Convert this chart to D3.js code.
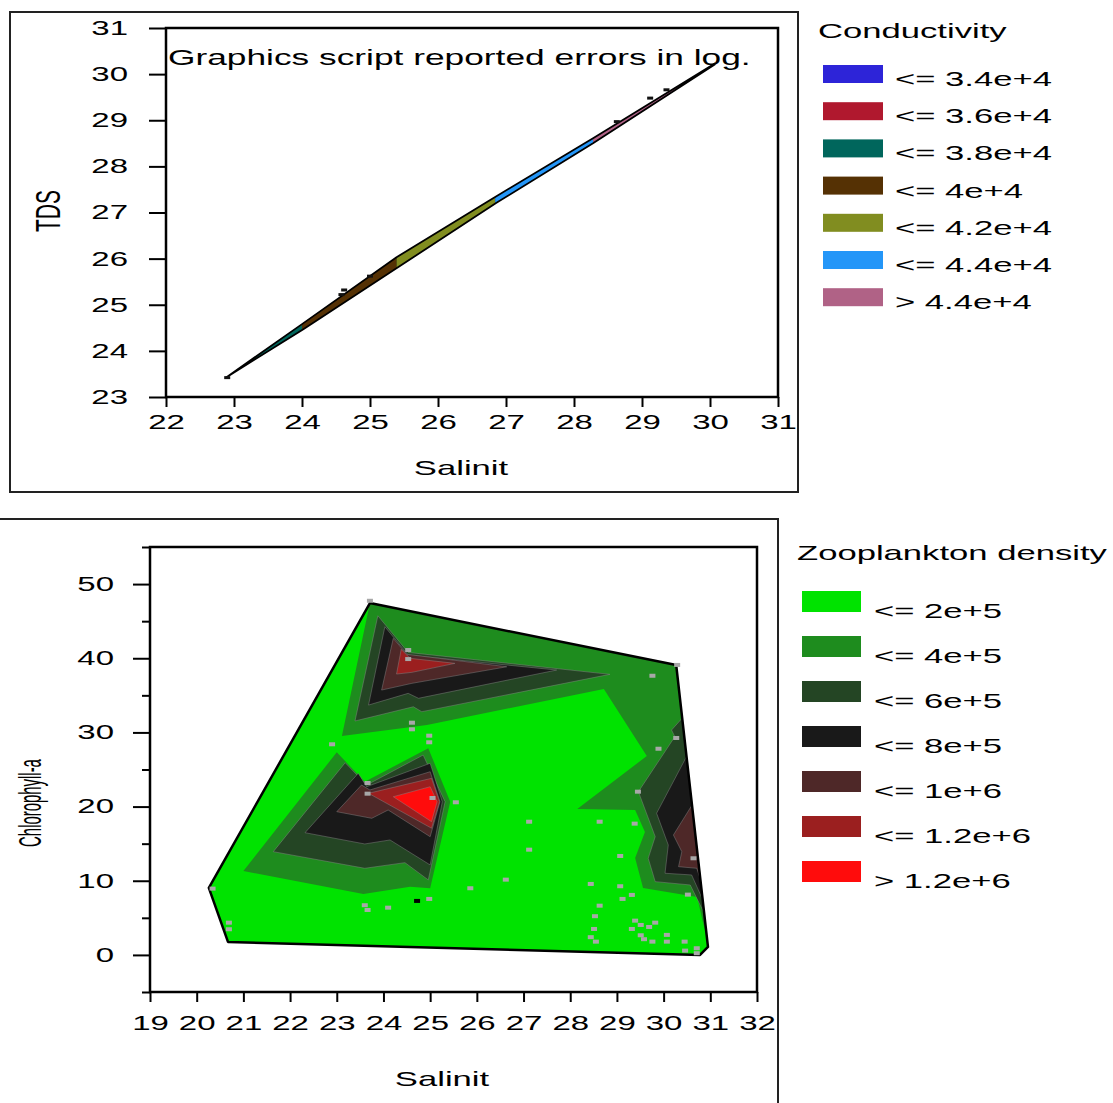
<!DOCTYPE html>
<html>
<head>
<meta charset="utf-8">
<script src="https://cdn.jsdelivr.net/npm/d3@7"></script>
<style>
  body { margin: 0; background: #fff; }
  svg text { font-family: "Liberation Sans", Arial, sans-serif; fill: #000; }
</style>
</head>
<body>
<svg id="chart" width="1113" height="1103"></svg>
<script>
// ---------- data ----------
// top chart : TDS vs Salinit, coloured by Conductivity
const condLabels = ["<= 3.4e+4", "<= 3.6e+4", "<= 3.8e+4", "<= 4e+4", "<= 4.2e+4", "<= 4.4e+4", "> 4.4e+4"];
const condColors = ["#2d24d8", "#b0182e", "#00665c", "#553104", "#818d20", "#2496f8", "#b06286"];
const tdsTicks = [23, 24, 25, 26, 27, 28, 29, 30, 31];
const salTopTicks = [22, 23, 24, 25, 26, 27, 28, 29, 30, 31];

// hull of the (nearly collinear) samples: upper side then lower side  [salinit, tds]
const sliverUpper = [[22.89, 23.43], [24.00, 24.58], [25.39, 26.03], [26.81, 27.31], [28.28, 28.61], [30.07, 30.23]];
const sliverLower = [[30.07, 30.21], [28.28, 28.50], [26.86, 27.21], [25.44, 25.84], [24.02, 24.47]];
// salinit where the conductivity class changes along the sliver, and the class of each piece
const sliverBreaks = [22.89, 24.00, 25.39, 26.84, 28.28, 29.56];
const sliverClass = [2, 3, 4, 5, 6];
const topPoints = [[22.9, 23.42], [24.58, 25.22], [24.62, 25.32], [25.0, 25.62], [28.63, 28.97], [29.12, 29.48], [29.36, 29.66]];

// bottom chart : Chlorophyll-a vs Salinit, coloured by Zooplankton density
const zooLabels = ["<= 2e+5", "<= 4e+5", "<= 6e+5", "<= 8e+5", "<= 1e+6", "<= 1.2e+6", "> 1.2e+6"];
const zooColors = ["#00e300", "#1e8c1e", "#244524", "#191919", "#4e2828", "#9b1f1f", "#ff0c0c"];
const salBotTicks = [19, 20, 21, 22, 23, 24, 25, 26, 27, 28, 29, 30, 31, 32];
const chlMajor = [0, 10, 20, 30, 40, 50];
const chlMinor = [-5, 5, 15, 25, 35, 45, 55];

// contour regions  [salinit, chlorophyll]
const hull = [[23.71, 47.44], [30.27, 39.08], [30.95, 1.08], [30.78, 0], [20.67, 1.75], [20.26, 9.03]];
const zoo1Upper = [[23.71, 47.44], [30.27, 39.08], [30.92, 2.5], [30.83, 4.7], [30.72, 7.82], [29.56, 9.03], [29.39, 13.07],
  [29.60, 16.58], [29.39, 19.54], [28.15, 19.68], [29.64, 26.82], [28.72, 35.85], [24.93, 31.00], [23.11, 29.51]];
const zoo1Lower = [[23.00, 27.32], [23.60, 23.36], [24.96, 27.86], [25.43, 20.66], [25.00, 8.99], [24.57, 9.20], [23.57, 8.22], [21.00, 11.32]];
const zoo2Upper = [[23.88, 45.73], [24.53, 40.79], [28.85, 37.83], [24.82, 32.79], [24.64, 33.46], [23.39, 31.54]];
const zoo2Lower = [[23.18, 25.92], [23.64, 22.91], [24.85, 26.95], [25.32, 20.66], [24.96, 10.11], [24.46, 12.44], [23.60, 11.68], [21.64, 13.92]];
const zoo2Right = [[30.40, 31.94], [30.17, 30.32], [30.24, 29.42], [29.46, 22.01], [29.82, 15.94], [29.67, 13.03], [29.82, 9.88], [30.57, 9.43], [30.87, 5.62]];
const zoo3Upper = [[24.03, 44.25], [24.53, 40.43], [27.71, 38.41], [24.75, 34.60], [24.53, 35.27], [23.68, 33.69]];
const zoo3Lower = [[23.46, 24.49], [23.64, 22.68], [25.00, 25.84], [25.26, 20.66], [25.00, 12.13], [24.14, 15.50], [23.60, 14.96], [22.32, 16.48]];
const zoo3Right = [[30.49, 26.73], [29.85, 19.10], [30.10, 14.82], [30.03, 11.01], [30.60, 10.78], [30.84, 7.41]];
const zoo4Upper = [[24.21, 42.68], [24.50, 40.53], [26.64, 38.85], [24.61, 36.62], [23.96, 35.71]];
const zoo4Lower = [[23.53, 22.91], [23.71, 22.24], [25.00, 24.70], [25.21, 20.66], [25.00, 15.94], [24.10, 19.54], [23.75, 18.42], [23.00, 19.31]];
const zoo4Right = [[30.61, 20.22], [30.21, 16.17], [30.39, 13.92], [30.32, 11.90], [30.71, 11.68], [30.79, 10.11]];
const zoo5Upper = [[24.38, 41.20], [24.57, 39.99], [25.53, 39.31], [24.61, 38.10], [24.28, 37.87]];
const zoo5Lower = [[23.68, 21.79], [25.03, 23.81], [25.20, 20.66], [25.03, 17.08]];
const zoo6Lower = [[24.21, 21.33], [25.00, 22.68], [25.15, 20.66], [25.03, 17.96]];

// sample locations (grey markers) and the one black marker
const zooPoints = [[23.71, 47.75], [24.53, 41.11], [24.53, 39.89], [24.61, 31.31], [24.61, 30.42], [24.98, 29.56], [24.98, 28.67],
  [22.90, 28.40], [23.66, 23.18], [23.66, 21.74], [25.05, 21.16], [25.55, 20.58], [20.34, 8.94], [24.98, 7.55], [25.86, 8.99],
  [23.60, 6.70], [23.66, 6.06], [24.10, 6.37], [30.29, 39.10], [29.76, 37.64], [30.27, 29.25], [29.89, 27.80], [29.45, 22.01],
  [27.12, 17.96], [28.63, 17.96], [29.38, 17.70], [27.12, 14.19], [29.07, 13.34], [30.64, 13.03], [26.62, 10.15], [28.44, 9.57],
  [29.07, 9.26], [29.32, 8.09], [29.12, 7.55], [30.52, 8.13], [28.63, 6.64], [28.53, 5.22], [29.39, 4.62], [29.51, 4.04],
  [29.82, 4.35], [29.69, 3.77], [29.32, 3.50], [28.51, 3.50], [28.44, 2.39], [28.55, 1.79], [29.51, 2.65], [29.58, 2.12],
  [29.76, 1.79], [30.07, 2.70], [30.07, 1.79], [30.45, 1.79], [30.46, 0.58], [30.71, 0.90], [30.71, 0.23], [20.69, 4.35], [20.69, 3.46]];
const blackPoint = [24.72, 7.28];

// ---------- drawing ----------
const svg = d3.select("#chart");
const SX = 1.65; // the original picture is stretched sideways, text included

const label = (g, x, y, str, size, anchor, rot, sx, sy) =>
  g.append("text")
    .attr("transform", `translate(${x},${y}) scale(${sx || SX},${sy || 1})` + (rot ? ` rotate(${rot})` : ""))
    .attr("text-anchor", anchor || "start")
    .attr("font-size", size)
    .text(str);

const styleAxis = (g, textTransform) => {
  g.attr("font-size", 20).attr("font-family", null);
  g.select(".domain").remove();
  g.selectAll(".tick line").attr("stroke", "#000").attr("stroke-width", 2);
  g.selectAll(".tick text").attr("fill", "#000").attr("transform", textTransform);
};

// legend: title, then one swatch + label per class
const drawLegend = (titleX, titleY, title, labels, colors, swX, sw, sh, swTop, step, textX, textDy) => {
  const lg = svg.append("g");
  label(lg, titleX, titleY, title, 21);
  lg.selectAll("rect")
    .data(colors)
    .enter()
    .append("rect")
      .attr("x", swX)
      .attr("y", (d, i) => swTop + i * step)
      .attr("width", sw)
      .attr("height", sh)
      .attr("fill", d => d);
  labels.forEach((t, i) => label(lg, textX, swTop + i * step + textDy, t, 21));
};

// ===== top chart =====
svg.append("rect").attr("x", 10).attr("y", 12).attr("width", 788).attr("height", 480)
  .attr("fill", "none").attr("stroke", "#222").attr("stroke-width", 2);

const xTop = d3.scaleLinear().domain([22, 31]).range([166, 778]);
const yTop = d3.scaleLinear().domain([23, 31]).range([397, 28]);

svg.append("text")
  .attr("transform", `translate(168,65) scale(${SX},1)`)
  .attr("font-size", 21.4)
  .text("Graphics script reported errors in log.");

// sliver coloured by conductivity class
const sliver = sliverUpper.concat(sliverLower);
const lineTop = d3.line().x(d => xTop(d[0])).y(d => yTop(d[1]));
svg.append("clipPath").attr("id", "sliverClip")
  .append("path").attr("d", lineTop(sliver) + "Z");

const sliverG = svg.append("g").attr("clip-path", "url(#sliverClip)");
sliverG.append("rect")
  .attr("x", xTop(22)).attr("y", yTop(31))
  .attr("width", xTop(31) - xTop(22)).attr("height", yTop(23) - yTop(31))
  .attr("fill", "#000");
sliverG.selectAll(".band")
  .data(sliverClass)
  .enter()
  .append("rect")
    .attr("x", (d, i) => xTop(sliverBreaks[i]))
    .attr("y", yTop(31))
    .attr("width", (d, i) => xTop(sliverBreaks[i + 1]) - xTop(sliverBreaks[i]))
    .attr("height", yTop(23) - yTop(31))
    .attr("fill", d => condColors[d]);

svg.append("path").attr("d", lineTop(sliver) + "Z")
  .attr("fill", "none").attr("stroke", "#000").attr("stroke-width", 1.8).attr("stroke-linejoin", "round");

svg.append("g").selectAll("rect")
  .data(topPoints)
  .enter()
  .append("rect")
    .attr("x", d => xTop(d[0]) - 3)
    .attr("y", d => yTop(d[1]) - 1.5)
    .attr("width", 6).attr("height", 3)
    .attr("fill", "#111");

svg.append("rect").attr("x", 166).attr("y", 28).attr("width", 612).attr("height", 369)
  .attr("fill", "none").attr("stroke", "#000").attr("stroke-width", 2.5);

svg.append("g").attr("transform", "translate(166,0)")
  .call(d3.axisLeft(yTop).tickValues(tdsTicks).tickSize(17).tickFormat(d3.format("d")))
  .call(g => styleAxis(g, `translate(-38,0) scale(${SX},1)`))
  .call(g => g.selectAll(".tick text").attr("x", 0));

svg.append("g").attr("transform", "translate(0,397)")
  .call(d3.axisBottom(xTop).tickValues(salTopTicks).tickSize(10).tickPadding(8).tickFormat(d3.format("d")))
  .call(g => styleAxis(g, `scale(${SX},1)`));

label(svg, 461, 475, "Salinit", 21, "middle");
label(svg, 60, 211, "TDS", 21, "middle", -90);

drawLegend(818, 38, "Conductivity", condLabels, condColors, 823, 60, 18, 65, 37.2, 895, 21);

// ===== bottom chart =====
svg.append("path").attr("d", "M0,519H778V1103")
  .attr("fill", "none").attr("stroke", "#222").attr("stroke-width", 2);

const xBot = d3.scaleLinear().domain([19, 32]).range([150, 757]);
const yBot = d3.scaleLinear().domain([-5, 55]).range([992, 547]);
const lineBot = d3.line().x(d => xBot(d[0])).y(d => yBot(d[1]));

// filled contour regions, lowest class first
const zooRegions = [
  { level: 0, pts: hull },
  { level: 1, pts: zoo1Upper }, { level: 1, pts: zoo1Lower },
  { level: 2, pts: zoo2Upper }, { level: 2, pts: zoo2Lower }, { level: 2, pts: zoo2Right },
  { level: 3, pts: zoo3Upper }, { level: 3, pts: zoo3Lower }, { level: 3, pts: zoo3Right },
  { level: 4, pts: zoo4Upper }, { level: 4, pts: zoo4Lower }, { level: 4, pts: zoo4Right },
  { level: 5, pts: zoo5Upper }, { level: 5, pts: zoo5Lower },
  { level: 6, pts: zoo6Lower }
];

svg.append("g").selectAll("path")
  .data(zooRegions)
  .enter()
  .append("path")
    .attr("d", d => lineBot(d.pts) + "Z")
    .attr("fill", d => zooColors[d.level])
    .attr("stroke", d => d.level >= 2 ? "rgba(140,140,140,0.55)" : "none")
    .attr("stroke-width", 0.8);

svg.append("path").attr("d", lineBot(hull) + "Z")
  .attr("fill", "none").attr("stroke", "#000").attr("stroke-width", 2.5).attr("stroke-linejoin", "round");

svg.append("g").selectAll("rect")
  .data(zooPoints)
  .enter()
  .append("rect")
    .attr("x", d => xBot(d[0]) - 3)
    .attr("y", d => yBot(d[1]) - 2)
    .attr("width", 6).attr("height", 4)
    .attr("fill", "#a8a8a8");
svg.append("rect")
  .attr("x", xBot(blackPoint[0]) - 3).attr("y", yBot(blackPoint[1]) - 2)
  .attr("width", 6).attr("height", 4).attr("fill", "#000");

svg.append("rect").attr("x", 150).attr("y", 547).attr("width", 607).attr("height", 445)
  .attr("fill", "none").attr("stroke", "#000").attr("stroke-width", 2.5);

svg.append("g").attr("transform", "translate(150,0)")
  .call(d3.axisLeft(yBot).tickValues(chlMajor).tickSize(17).tickFormat(d3.format("d")))
  .call(g => styleAxis(g, `translate(-36,0) scale(${SX},1)`))
  .call(g => g.selectAll(".tick text").attr("x", 0));

svg.append("g").attr("transform", "translate(150,0)")
  .call(d3.axisLeft(yBot).tickValues(chlMinor).tickSize(8).tickFormat(""))
  .call(g => styleAxis(g, null));

svg.append("g").attr("transform", "translate(0,992)")
  .call(d3.axisBottom(xBot).tickValues(salBotTicks).tickSize(10).tickPadding(14).tickFormat(d3.format("d")))
  .call(g => styleAxis(g, `scale(${SX},1)`));

label(svg, 442, 1086, "Salinit", 21, "middle");
label(svg, 41, 803, "Chlorophyll-a", 21, "middle", -90, 1.5, 0.71);

drawLegend(797, 560, "Zooplankton density", zooLabels, zooColors, 802, 59, 21, 591, 45, 874, 27);
</script>
</body>
</html>
